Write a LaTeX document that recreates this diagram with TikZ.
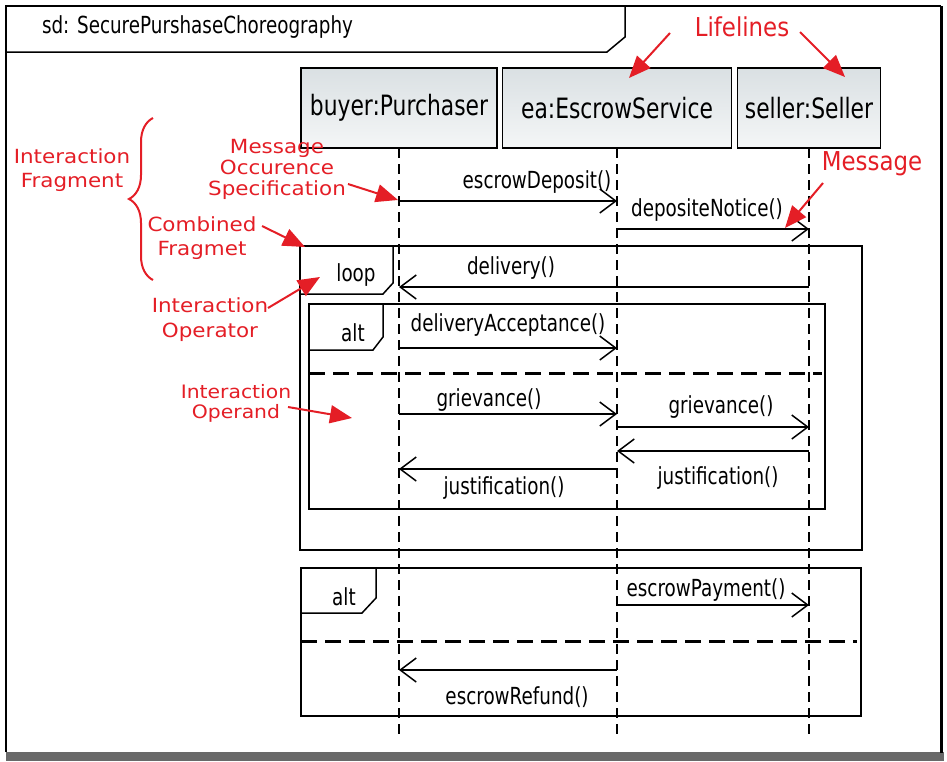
\documentclass[tikz,border=0pt]{standalone}
\usepackage{fontspec}
\setmainfont{DejaVu Sans}[FakeStretch=0.78]
\newfontfamily\redsmall{DejaVu Sans}[FakeStretch=1.1]
\newfontfamily\redbig{DejaVu Sans}[FakeStretch=0.88]
\usetikzlibrary{arrows.meta,decorations.pathreplacing}
\definecolor{annot}{RGB}{228,30,38}
\definecolor{headtop}{RGB}{218,224,227}
\definecolor{headbot}{RGB}{244,246,247}
\definecolor{shadowgray}{RGB}{105,105,105}
\begin{document}
\begin{tikzpicture}[x=1pt,y=-1pt,
  every node/.style={inner sep=0pt, outer sep=0pt},
  head/.style={draw=black, line width=1.5pt, top color=headtop, bottom color=headbot,
    minimum height=80pt, font=\fontsize{28}{30}\selectfont},
  lifeline/.style={line width=1.2pt, dash pattern=on 10pt off 6pt},
  msg/.style={line width=1.5pt, -{Straight Barb[length=16pt,width=24pt]}},
  lbl/.style={font=\fontsize{23.5}{26}\selectfont},
  cfframe/.style={line width=1.5pt},
  opsep/.style={line width=3pt, dash pattern=on 16pt off 8pt},
  redlbl/.style={text=annot, align=center, font=\redsmall\fontsize{19.5}{24}\selectfont},
  redbiglbl/.style={text=annot, font=\redbig\fontsize{26}{30}\selectfont},
  pointer/.style={draw=annot, line width=2pt, -{Triangle[length=22pt,width=18pt]}},
]
\useasboundingbox (0,0) rectangle (947,761);

% outer frame
\fill[shadowgray] (6,752) rectangle (944,761);
\draw[line width=1.5pt] (6,752) -- (6,6) -- (941,6);
\draw[line width=3pt] (941,6) -- (941,753);

% title tab
\node[lbl, anchor=west] (title) at (42,27) {sd: SecurePurshaseChoreography};
\draw[cfframe] (6,52) -- (607,52) -- (625,37) -- (625,6);

% lifeline heads
\node[head, minimum width=196pt] (buyer) at (399,108) {buyer:Purchaser};
\node[head, minimum width=229pt] (ea) at (617,108) {ea:EscrowService};
\node[head, minimum width=143pt] (seller) at (809,108) {seller:Seller};

\coordinate (buyerEnd) at (buyer.south |- 0,740);
\coordinate (eaEnd) at (ea.south |- 0,740);
\coordinate (sellerEnd) at (seller.south |- 0,740);
\draw[lifeline] (buyer.south) -- (buyerEnd);
\draw[lifeline] (ea.south) -- (eaEnd);
\draw[lifeline] (seller.south) -- (sellerEnd);

% messages
\draw[msg] (buyer |- 0,201) -- (ea |- 0,201);
\node[lbl] (m1) at (537,182) {escrowDeposit()};
\draw[msg] (ea |- 0,229) -- (seller |- 0,229);
\node[lbl] (m2) at (707,210) {depositeNotice()};

% loop fragment
\draw[cfframe] (300,246) rectangle (862,550);
\draw[cfframe] (300,294) -- (383,294) -- (393,283) -- (393,246);
\node[lbl] (loopop) at (356,275) {loop};
\draw[msg] (seller |- 0,287) -- (buyer |- 0,287);
\node[lbl] (m3) at (511,268) {delivery()};

% inner alt
\draw[cfframe] (309,304) rectangle (825,509);
\draw[cfframe] (309,350) -- (373,350) -- (383,337) -- (383,304);
\node[lbl] (altop1) at (353,333) {alt};
\draw[msg] (buyer |- 0,348) -- (ea |- 0,348);
\node[lbl] (m4) at (508,325) {deliveryAcceptance()};
\draw[opsep] (309,373) -- (822,373);
\draw[msg] (buyer |- 0,414) -- (ea |- 0,414);
\node[lbl] (m5) at (489,400) {grievance()};
\draw[msg] (ea |- 0,427) -- (seller |- 0,427);
\node[lbl] (m6) at (721,407) {grievance()};
\draw[msg] (seller |- 0,451) -- (ea |- 0,451);
\node[lbl] (m7) at (718,478) {justification()};
\draw[msg] (ea |- 0,469) -- (buyer |- 0,469);
\node[lbl] (m8) at (504,488) {justification()};

% second alt
\draw[cfframe] (301,568) rectangle (861,716);
\draw[cfframe] (301,613) -- (362,613) -- (376,598) -- (376,568);
\node[lbl] (altop2) at (344,597) {alt};
\draw[msg] (ea |- 0,605) -- (seller |- 0,605);
\node[lbl] (m9) at (706,590) {escrowPayment()};
\draw[opsep] (301,641) -- (857,641);
\draw[msg] (ea |- 0,670) -- (buyer |- 0,670);
\node[lbl] (m10) at (517,697) {escrowRefund()};

% annotations
\node[redbiglbl] (lifelinesLbl) at (742,27) {Lifelines};
\coordinate (p1s) at (670,33); \coordinate (p1e) at (629,78);
\coordinate (p2s) at (800,32); \coordinate (p2e) at (845,77);
\draw[pointer] (p1s) -- (p1e);
\draw[pointer] (p2s) -- (p2e);

\node[redbiglbl] (messageLbl) at (872,164) {Message};
\coordinate (p3s) at (823,183); \coordinate (p3e) at (785,228);
\draw[pointer] (p3s) -- (p3e);

\node[redlbl, font=\redsmall\fontsize{19.5}{21}\selectfont] (mosLbl) at (277,169) {Message\\Occurence\\Specification};
\coordinate (p4s) at (348,184); \coordinate (p4e) at (398,200);
\draw[pointer] (p4s) -- (p4e);

\node[redlbl] (ifLbl) at (72,170) {Interaction\\Fragment};
\draw[annot, line width=2pt, decorate, decoration={brace, amplitude=24pt}] (153,280) -- (153,118);

\node[redlbl] (cfLbl) at (202,238) {Combined\\Fragmet};
\coordinate (p5s) at (262,226); \coordinate (p5e) at (305,247);
\draw[pointer] (p5s) -- (p5e);

\node[redlbl, font=\redsmall\fontsize{19.5}{25}\selectfont] (ioLbl) at (210,320) {Interaction\\Operator};
\coordinate (p6s) at (268,308); \coordinate (p6e) at (320,277);
\draw[pointer] (p6s) -- (p6e);

\node[redlbl, font=\redsmall\fontsize{18.5}{20}\selectfont] (iopLbl) at (236,403) {Interaction\\Operand};
\coordinate (p7s) at (288,407); \coordinate (p7e) at (352,418);
\draw[pointer] (p7s) -- (p7e);
\end{tikzpicture}
\end{document}
